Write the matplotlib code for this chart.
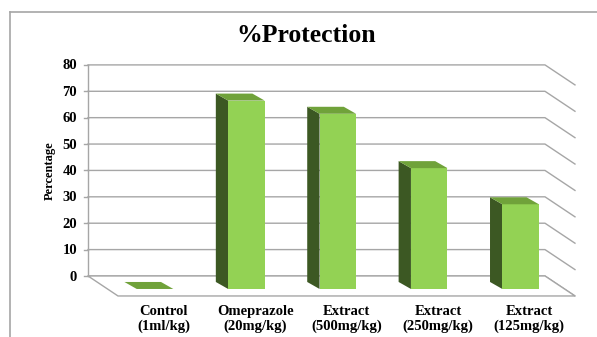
"""%Protection chart, Excel-like 3D columns drawn on a flat matplotlib axes."""

import matplotlib
matplotlib.use("Agg")
import matplotlib.pyplot as plt
from matplotlib.patches import Polygon

categorias = ["Control\n(1ml/kg)", "Omeprazole\n(20mg/kg)", "Extract\n(500mg/kg)",
              "Extract\n(250mg/kg)", "Extract\n(125mg/kg)"]
protecao = [0.0, 71.4, 66.4, 45.8, 32.1]
ticks_y = [0, 10, 20, 30, 40, 50, 60, 70, 80]

VERDE_FRENTE = "#93D254"
VERDE_LADO = "#3C5823"
VERDE_TOPO = "#70A23A"
CINZA = "#A6A6A6"

# profundidade do "piso" em unidades de dados (oblíquo)
PROF_X = 0.328
PROF_Y = -7.58
D_TRAS, D_FRENTE = 0.30, 0.65
LARG = 0.40

fig = plt.figure(figsize=(5.97, 3.37), dpi=100)
ax = fig.add_axes([0, 0, 1, 1])
ax.set_xlim(-1.463, 5.069)
ax.set_ylim(-23.13, 104.6)
ax.axis("off")

n = len(categorias)
x0, x1 = -0.5, n - 0.5

# grade da parede do fundo + diagonais da lateral direita
for v in ticks_y:
    ax.plot([x0, x1, x1 + PROF_X], [v, v, v + PROF_Y], color=CINZA, lw=1.0, zorder=1)
    ax.plot([x0 - 0.045, x0], [v, v], color=CINZA, lw=1.0, zorder=1)
    ax.text(x0 - 0.12, v - 0.4, str(v), ha="right", va="center", fontsize=10.5,
            fontweight="bold", family="Liberation Serif")
ax.plot([x0, x0], [0, ticks_y[-1]], color=CINZA, lw=1.0, zorder=1)

# piso
piso = Polygon([(x0, 0), (x1, 0), (x1 + PROF_X, PROF_Y), (x0 + PROF_X, PROF_Y)],
               closed=True, facecolor="white", edgecolor=CINZA, lw=1.0, zorder=1)
ax.add_patch(piso)

# colunas
for i, val in enumerate(protecao):
    xf = i + PROF_X * D_FRENTE - LARG / 2 + 0.02
    yf = PROF_Y * D_FRENTE
    dx = PROF_X * (D_FRENTE - D_TRAS) + 0.02
    yb = PROF_Y * D_TRAS
    ax.bar(xf, val, width=LARG, bottom=yf, align="edge", color=VERDE_FRENTE, zorder=3)
    lado = [(xf - dx, yb), (xf, yf), (xf, yf + val), (xf - dx, yb + val)]
    topo = [(xf - dx, yb + val), (xf - dx + LARG, yb + val), (xf + LARG, yf + val), (xf, yf + val)]
    ax.add_patch(Polygon(lado, closed=True, facecolor=VERDE_LADO, edgecolor="none", zorder=2))
    ax.add_patch(Polygon(topo, closed=True, facecolor=VERDE_TOPO, edgecolor="none", zorder=3))
    ax.text(i + PROF_X, PROF_Y - 3.6, categorias[i], ha="center", va="top", fontsize=10.5,
            fontweight="bold", family="Liberation Serif", linespacing=1.1)

ax.text(-0.916, 40, "Percentage", rotation=90, ha="center", va="center", fontsize=9,
        fontweight="bold", family="Liberation Serif")

fig.text(0.513, 0.894, "%Protection", ha="center", va="center", fontsize=18.5,
         fontweight="bold", family="Liberation Serif")

# moldura do gráfico
fig.add_artist(plt.Line2D([10 / 597, 1], [1 - 12 / 337, 1 - 12 / 337], color=CINZA, lw=1.2))
fig.add_artist(plt.Line2D([10 / 597, 10 / 597], [0, 1 - 12 / 337], color=CINZA, lw=1.2))

fig.savefig("out.png", dpi=100)
